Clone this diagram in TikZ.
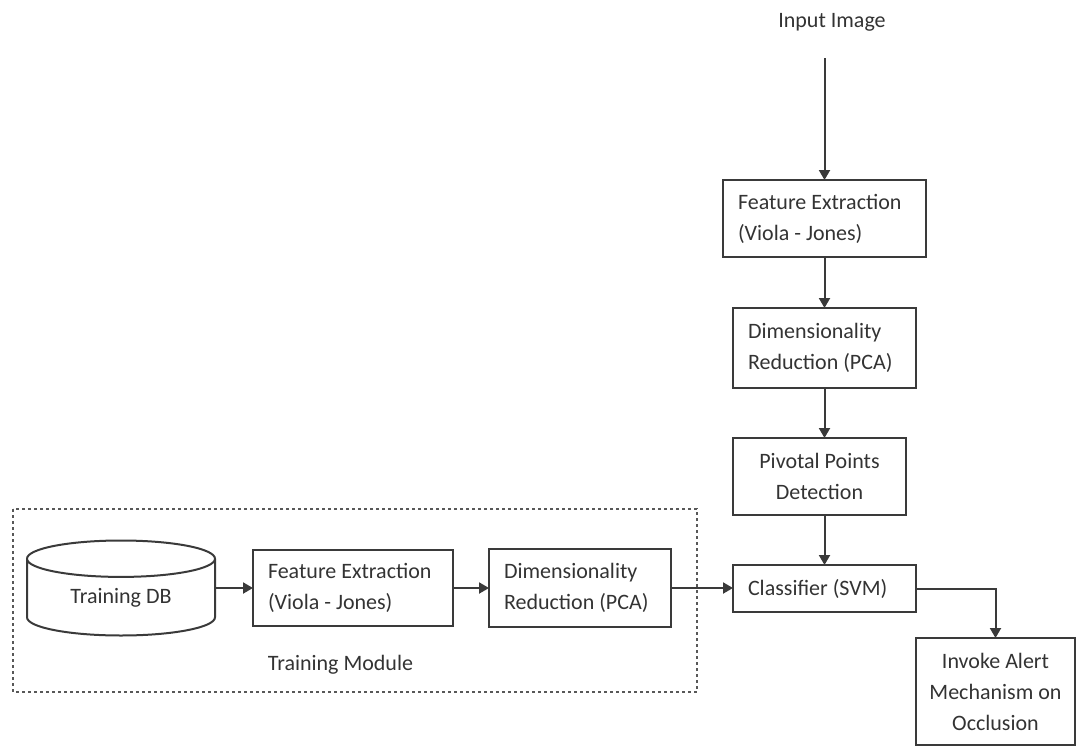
\documentclass[tikz,border=0pt]{standalone}
\usepackage{fontspec}
\setmainfont{Carlito}
\usetikzlibrary{arrows.meta,positioning,shapes.geometric}
\definecolor{lineGray}{HTML}{3A3A3A}
\definecolor{textGray}{HTML}{333333}

\begin{document}
\begin{tikzpicture}[
  x=1pt,y=-1pt,
  node distance=50pt,
  b/.style={draw=lineGray,line width=2pt,text=textGray,font=\fontsize{22}{31}\selectfont,inner sep=0pt,outer sep=0pt},
  lbox/.style={b,align=left,inner xsep=15pt,execute at begin node={\spaceskip=0.226em\relax}},
  cbox/.style={b,align=center},
  store/.style={b,cylinder,shape border rotate=90,aspect=0.36,minimum width=188pt,minimum height=95pt},
  plain/.style={text=textGray,font=\fontsize{22}{31}\selectfont,inner sep=0pt},
  arr/.style={-{Triangle[length=10pt,width=11pt]},draw=lineGray,line width=2pt},
  module/.style={draw=lineGray!85,line width=2pt,dash pattern=on 3pt off 3pt}
]
\useasboundingbox (0,0) rectangle (1079,747);
% test pipeline
\node[plain] (in) at (832,22) {Input Image};
\node[lbox,text width=173pt,minimum height=77pt] (fe) at (824.5,218.5) {Feature Extraction\\(Viola - Jones)};
\node[lbox,text width=153pt,minimum height=80pt,below=51pt of fe] (dr) {Dimensionality\\Reduction (PCA)};
\node[cbox,minimum width=173pt,minimum height=77pt,below=50pt of dr.south west,anchor=north west] (pp) {Pivotal Points\\Detection};
\node[lbox,text width=153pt,minimum height=47pt,below=50pt of pp.south west,anchor=north west] (cl) {Classifier (SVM)};
\node[cbox,minimum width=159pt,minimum height=107pt,below right=26pt and 0pt of cl] (al) {Invoke Alert\\Mechanism on\\Occlusion};
% training pipeline
\node[store,anchor=shape center] (db) at (121,588) {Training DB};
\node[lbox,text width=170pt,minimum height=76pt,right=38pt of db.shape center,anchor=west,xshift=94pt] (fe2) {Feature Extraction\\(Viola - Jones)};
\node[lbox,text width=152pt,minimum height=78pt,right=36pt of fe2] (dr2) {Dimensionality\\Reduction (PCA)};
\node[plain] (tm) at (340.5,665) {Training Module};
\draw[module] (13,509) rectangle (697,692);
% connectors
\draw[arr,shorten <=27pt] (in.south -| fe.north) -- (fe.north);
\draw[arr] (fe) -- (dr);
\draw[arr] (dr.south) -- (dr.south |- pp.north);
\draw[arr] (dr.south |- pp.south) -- (dr.south |- cl.north);
\draw[arr] (db.east |- fe2.west) -- (fe2.west);
\draw[arr] (fe2) -- (dr2);
\draw[arr] (dr2.east) -- (dr2.east -| cl.west);
\draw[arr] (cl.east) -| (al.north);
\end{tikzpicture}
\end{document}
